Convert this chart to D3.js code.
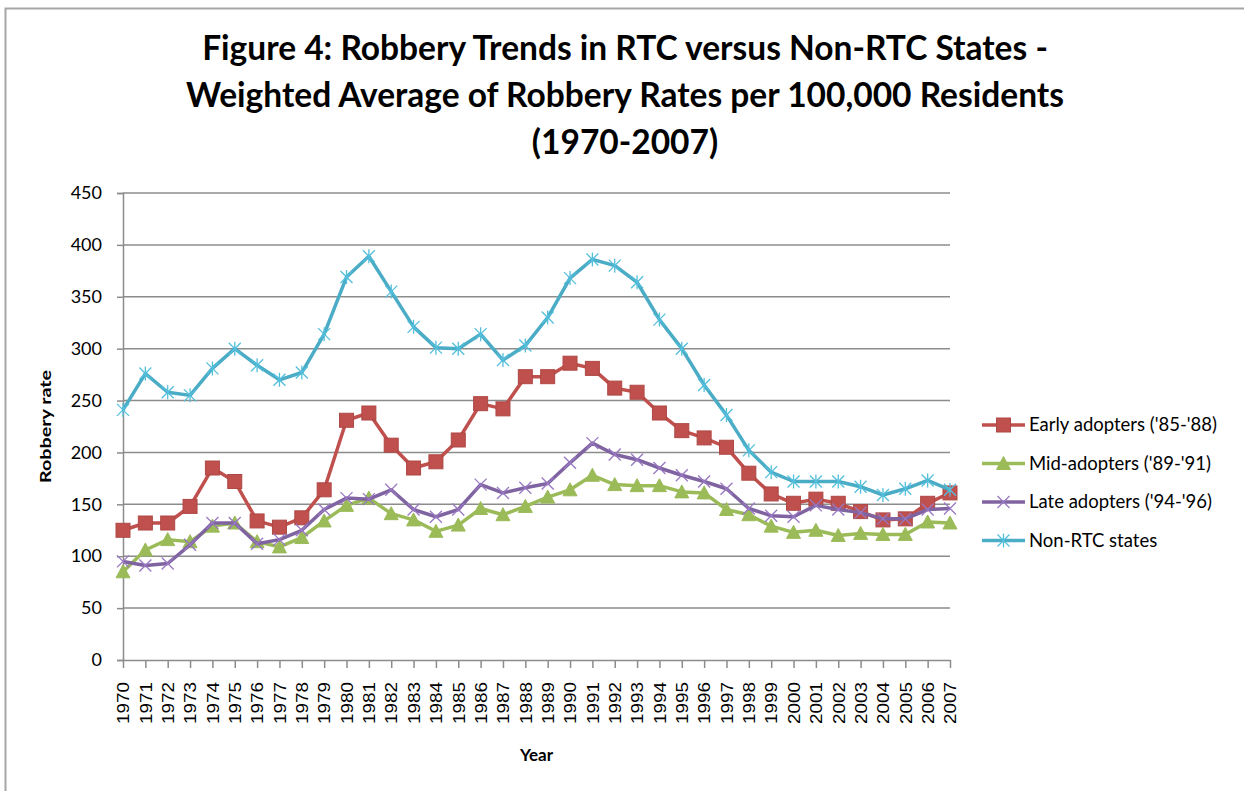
<!DOCTYPE html>
<html>
<head>
<meta charset="utf-8">
<script src="https://cdn.jsdelivr.net/npm/d3@7"></script>
<style>
  body { margin: 0; background: #fff; }
  svg { display: block; }
</style>
</head>
<body>
<script>
const width = 1244, height = 791;

const years = d3.range(1970, 2008).map(String);

const early = [125, 132, 132, 148, 185, 172, 134, 128, 137, 164, 231, 238, 207, 185, 191, 212, 247, 242, 273, 273, 286, 281, 262, 258, 238, 221, 214, 205, 180, 160, 151, 155, 151, 143, 135, 136, 151, 161];
const mid = [85, 106, 116, 114, 129, 132, 114, 109, 118, 134, 149, 156, 141, 135, 124, 130, 146, 140, 148, 157, 164, 178, 169, 168, 168, 162, 161, 145, 140, 129, 123, 125, 120, 122, 121, 121, 133, 132];
const late = [95, 91, 93, 111, 132, 132, 112, 116, 125, 145, 156, 155, 164, 145, 138, 145, 169, 161, 166, 170, 190, 209, 198, 193, 185, 178, 172, 165, 146, 139, 138, 149, 145, 142, 136, 136, 145, 146];
const nonRtc = [241, 276, 258, 255, 281, 300, 284, 270, 277, 314, 369, 389, 355, 321, 301, 300, 314, 289, 303, 330, 368, 386, 380, 364, 328, 300, 265, 236, 202, 181, 172, 172, 172, 167, 159, 165, 173, 164];

const seriesNames = ["Early adopters ('85-'88)", "Mid-adopters ('89-'91)", "Late adopters ('94-'96)", "Non-RTC states"];
const seriesValues = [early, mid, late, nonRtc];
const seriesColors = ['#C0504D', '#9BBB59', '#8064A2', '#4BACC6'];
const seriesMarkers = ['square', 'triangle', 'x', 'star'];
const yTicks = [0, 50, 100, 150, 200, 250, 300, 350, 400, 450];

const titleLines = ['Figure 4: Robbery Trends in RTC versus Non-RTC States -',
    'Weighted Average of Robbery Rates per 100,000 Residents',
    '(1970-2007)'];

const margin = {left: 123, right: 294, top: 193, bottom: 131};
const font = 'Lato, "Open Sans", sans-serif';

const x = d3.scalePoint()
    .domain(years)
    .range([margin.left, width - margin.right]);

const y = d3.scaleLinear()
    .domain([0, 450])
    .range([height - margin.bottom, margin.top]);

const svg = d3.select('body').append('svg')
    .attr('width', width)
    .attr('height', height);

// chart frame (only top and left visible in the crop)
svg.append('path')
    .attr('d', `M5.5,${height}V8.5H${width}`)
    .attr('fill', 'none')
    .attr('stroke', '#a6a6a6')
    .attr('stroke-width', 2);

// title
svg.append('g')
    .selectAll('text')
    .data(titleLines)
    .join('text')
    .attr('x', 625)
    .attr('y', (d, i) => 60 + i * 47)
    .attr('text-anchor', 'middle')
    .style('font-family', font)
    .style('font-weight', 'bold')
    .style('font-size', '33.5px')
    .style('fill', '#000')
    .text(d => d);

// gridlines
svg.append('g')
    .selectAll('line')
    .data(yTicks.slice(1))
    .join('line')
    .attr('x1', margin.left)
    .attr('x2', width - margin.right)
    .attr('y1', d => y(d))
    .attr('y2', d => y(d))
    .attr('stroke', '#8c8c8c')
    .attr('stroke-width', 1.5);

// y axis
const yAxis = svg.append('g')
    .attr('transform', `translate(${margin.left},0)`)
    .call(d3.axisLeft(y).tickValues(yTicks).tickSize(6).tickPadding(15));
yAxis.select('.domain').attr('stroke', '#8c8c8c').attr('stroke-width', 1.5);
yAxis.selectAll('.tick line').attr('stroke', '#8c8c8c').attr('stroke-width', 1.5);
yAxis.selectAll('.tick text')
    .style('font-family', font)
    .style('font-size', '18px')
    .style('fill', '#000');

// x axis
const xAxis = svg.append('g')
    .attr('transform', `translate(0,${height - margin.bottom})`)
    .call(d3.axisBottom(x).tickSize(8).tickSizeOuter(0));
xAxis.select('.domain').attr('stroke', '#8c8c8c').attr('stroke-width', 1.5);
xAxis.selectAll('.tick line').attr('stroke', '#8c8c8c').attr('stroke-width', 1.5);
xAxis.selectAll('.tick text')
    .attr('transform', 'rotate(-90)')
    .attr('x', -22)
    .attr('y', 0)
    .attr('dy', '0.36em')
    .attr('text-anchor', 'end')
    .attr('textLength', 42)
    .attr('lengthAdjust', 'spacingAndGlyphs')
    .style('font-family', '"Liberation Sans", Arial, sans-serif')
    .style('font-size', '16px')
    .style('fill', '#000');

// axis titles
svg.append('text')
    .attr('transform', `translate(51,${(margin.top + height - margin.bottom) / 2}) rotate(-90)`)
    .attr('text-anchor', 'middle')
    .attr('textLength', 113)
    .attr('lengthAdjust', 'spacingAndGlyphs')
    .style('font-family', font)
    .style('font-weight', 'bold')
    .style('font-size', '16px')
    .text('Robbery rate');

svg.append('text')
    .attr('x', (margin.left + width - margin.right) / 2)
    .attr('y', 761)
    .attr('text-anchor', 'middle')
    .style('font-family', font)
    .style('font-weight', 'bold')
    .style('font-size', '17px')
    .text('Year');

// marker shapes
function drawMarker(sel, type, color) {
    if (type === 'square') {
        sel.append('rect')
            .attr('x', -7).attr('y', -7)
            .attr('width', 14).attr('height', 14)
            .attr('fill', color)
            .attr('stroke', d3.color(color).darker(0.3))
            .attr('stroke-width', 1);
    } else if (type === 'triangle') {
        sel.append('path')
            .attr('d', 'M0,-7L7,6H-7Z')
            .attr('fill', color)
            .attr('stroke', color)
            .attr('stroke-width', 1);
    } else if (type === 'x') {
        sel.append('path')
            .attr('d', 'M-6,-6L6,6M-6,6L6,-6')
            .attr('stroke', d3.color(color).brighter(0.5))
            .attr('stroke-width', 1.3)
            .attr('fill', 'none');
    } else {
        sel.append('path')
            .attr('d', 'M-6,-6L6,6M-6,6L6,-6M0,-7V7')
            .attr('stroke', d3.color(color).brighter(0.3))
            .attr('stroke-width', 1.3)
            .attr('fill', 'none');
    }
}

const line = d3.line()
    .x((d, i) => x(years[i]))
    .y(d => y(d));

seriesValues.forEach((vals, k) => {
    const g = svg.append('g').attr('class', 'series');
    g.append('path')
        .datum(vals)
        .attr('d', line)
        .attr('fill', 'none')
        .attr('stroke', seriesColors[k])
        .attr('stroke-width', 3.5)
        .attr('stroke-linejoin', 'round');
    g.selectAll('g.pt')
        .data(vals)
        .join('g')
        .attr('class', 'pt')
        .attr('transform', (d, i) => `translate(${x(years[i])},${y(d)})`)
        .each(function() { drawMarker(d3.select(this), seriesMarkers[k], seriesColors[k]); });
});

// legend
const legend = svg.append('g')
    .attr('transform', 'translate(982,425)');
const item = legend.selectAll('g')
    .data(seriesNames)
    .join('g')
    .attr('transform', (d, i) => `translate(0,${i * 38.5})`);
item.append('line')
    .attr('x1', 0).attr('x2', 43)
    .attr('stroke', (d, i) => seriesColors[i])
    .attr('stroke-width', 3.5);
item.append('g')
    .attr('transform', 'translate(21.5,0)')
    .each(function(d, i) { drawMarker(d3.select(this), seriesMarkers[i], seriesColors[i]); });
item.append('text')
    .attr('x', 47)
    .attr('dy', '0.35em')
    .style('font-family', font)
    .style('font-size', '18.5px')
    .style('fill', '#000')
    .text(d => d);
</script>
</body>
</html>
